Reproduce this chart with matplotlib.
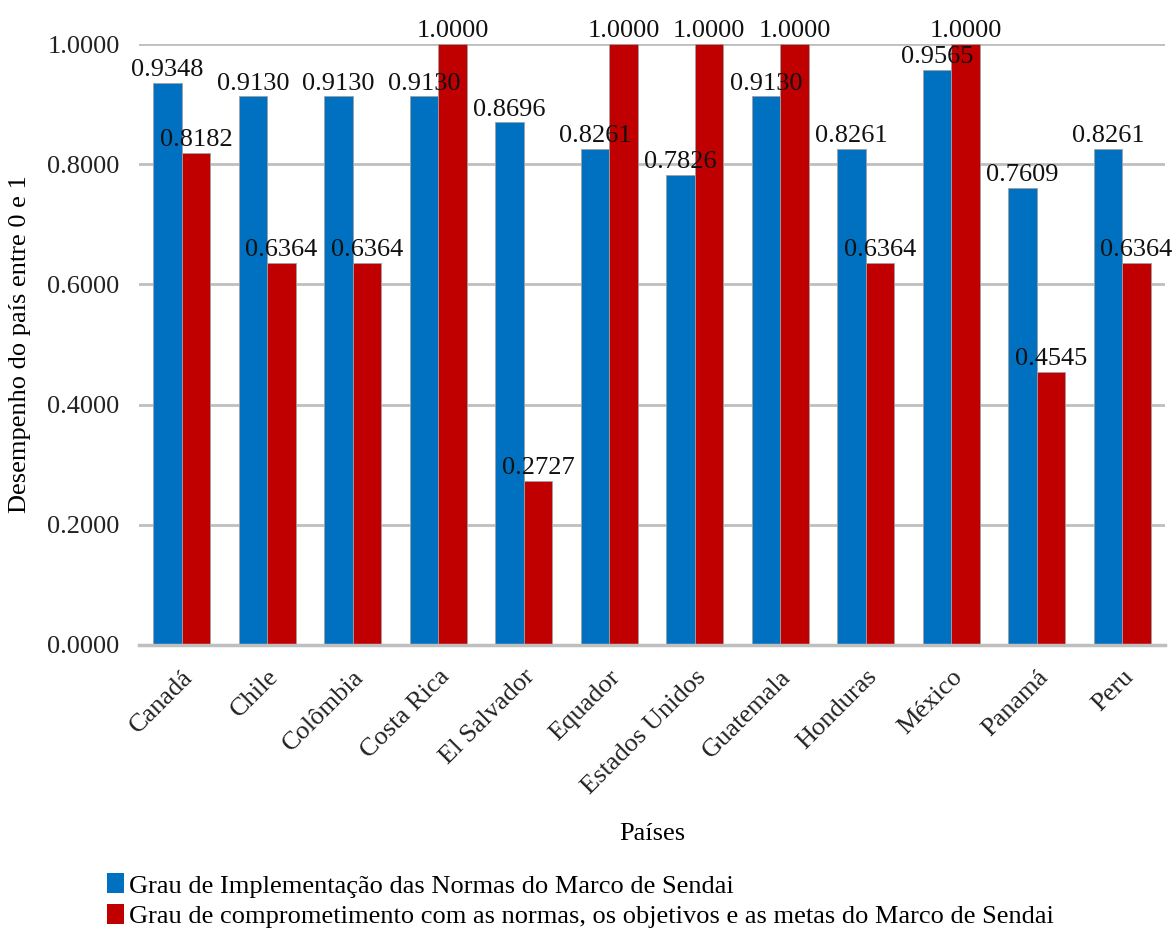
import matplotlib.pyplot as plt
import numpy as np
from matplotlib.patches import Patch

plt.rcParams.update({
    "font.family": ["Liberation Serif", "DejaVu Serif"],
    "font.size": 19,
})

paises = ["Canadá", "Chile", "Colômbia", "Costa Rica", "El Salvador", "Equador",
          "Estados Unidos", "Guatemala", "Honduras", "México", "Panamá", "Peru"]
implementacao = [0.9348, 0.9130, 0.9130, 0.9130, 0.8696, 0.8261,
                 0.7826, 0.9130, 0.8261, 0.9565, 0.7609, 0.8261]
comprometimento = [0.8182, 0.6364, 0.6364, 1.0000, 0.2727, 1.0000,
                   1.0000, 1.0000, 0.6364, 1.0000, 0.4545, 0.6364]
serie_nomes = ["Grau de Implementação das Normas do Marco de Sendai",
               "Grau de comprometimento com as normas, os objetivos e as metas do Marco de Sendai"]
azul, vermelho = "#0070C0", "#C00000"

fig = plt.figure(figsize=(11.74, 9.33), dpi=100)
ax = fig.add_axes([0.1184, 0.3087, 0.8739, 0.6441])

x = np.arange(len(paises))
w = 1 / 3
b1 = ax.bar(x - w / 2, implementacao, w, color=azul, edgecolor="#a0a0a0", linewidth=0.6, zorder=3)
b2 = ax.bar(x + w / 2, comprometimento, w, color=vermelho, edgecolor="#a0a0a0", linewidth=0.6, zorder=3)

# rótulos de valor acima de cada barra
for bars, vals in ((b1, implementacao), (b2, comprometimento)):
    for r, v in zip(bars, vals):
        ax.text(r.get_x() + r.get_width() / 2, v + 0.003, f"{v:.4f}",
                ha="center", va="bottom", color="#111111", zorder=4)

ax.set_xlim(-0.5, len(paises) - 0.5)
ax.set_ylim(0, 1.0)
ax.set_yticks(np.arange(0, 1.01, 0.2))
ax.yaxis.set_major_formatter(plt.FuncFormatter(lambda v, _: f"{v:.4f}"))
ax.grid(axis="y", color="#bfbfbf", linewidth=2, zorder=0)
ax.set_axisbelow(True)
for s in ("top", "right", "left"):
    ax.spines[s].set_visible(False)
ax.spines["bottom"].set_color("#bfbfbf")
ax.spines["bottom"].set_linewidth(2.5)
ax.spines["bottom"].set_zorder(5)
ax.tick_params(axis="y", length=0, pad=14, labelcolor="#222222")
ax.tick_params(axis="x", length=0, pad=15)
ax.set_xticks(x)
ax.set_xticklabels(paises, rotation=45, ha="right", rotation_mode="anchor", color="#222222")

ax.set_ylabel("Desempenho do país entre 0 e 1", labelpad=12)
ax.set_xlabel("Países", labelpad=18)

handles = [Patch(facecolor=azul), Patch(facecolor=vermelho)]
fig.legend(handles, serie_nomes, loc="upper left", bbox_to_anchor=(0.091, 0.064),
           bbox_transform=fig.transFigure, frameon=False, handlelength=0.65, handleheight=0.8,
           handletextpad=0.2, labelspacing=0.25, borderaxespad=0, borderpad=0)

fig.savefig("out.png", dpi=100)
